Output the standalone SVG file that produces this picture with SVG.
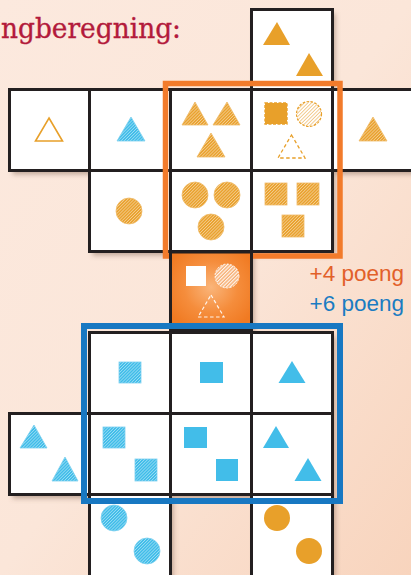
<svg xmlns="http://www.w3.org/2000/svg" width="411" height="575" viewBox="0 0 411 575">
<defs>
<linearGradient id="bg" x1="0" y1="0" x2="1" y2="1">
<stop offset="0" stop-color="#fce9de"/>
<stop offset="0.5" stop-color="#fbe6d9"/>
<stop offset="1" stop-color="#f8d4bd"/>
</linearGradient>
<radialGradient id="og" cx="0.5" cy="0.45" r="0.6">
<stop offset="0" stop-color="#fab57a"/>
<stop offset="0.55" stop-color="#f58d3c"/>
<stop offset="1" stop-color="#f07a22"/>
</radialGradient>
<pattern id="hO" width="2.2" height="2.2" patternUnits="userSpaceOnUse" patternTransform="rotate(45)">
<rect width="2.2" height="2.2" fill="#e9a22f"/><rect width="0.7" height="2.2" fill="#fff" fill-opacity="0.5"/>
</pattern>
<pattern id="hB" width="2.2" height="2.2" patternUnits="userSpaceOnUse" patternTransform="rotate(45)">
<rect width="2.2" height="2.2" fill="#41bde9"/><rect width="0.7" height="2.2" fill="#fff" fill-opacity="0.5"/>
</pattern>
<pattern id="hL" width="2.5" height="2.5" patternUnits="userSpaceOnUse" patternTransform="rotate(45)">
<rect width="2.5" height="2.5" fill="#fff"/><rect width="0.9" height="2.5" fill="#eaa640" fill-opacity="0.65"/>
</pattern>
<pattern id="hW" width="2.5" height="2.5" patternUnits="userSpaceOnUse" patternTransform="rotate(45)">
<rect width="2.5" height="2.5" fill="#f6ae74"/><rect width="1.1" height="2.5" fill="#fff" fill-opacity="0.9"/>
</pattern>
<filter id="blur" x="-10%" y="-10%" width="120%" height="120%"><feGaussianBlur stdDeviation="2.5"/></filter>
<style>
.cell{fill:#fff;stroke:#231f20;stroke-width:3}
.o{fill:#e8a02a}
.b{fill:#42bde9}
.ho{fill:url(#hO);stroke:#efbb6a;stroke-width:0.8}
.hb{fill:url(#hB);stroke:#7dd0ef;stroke-width:0.8}
.sh{fill:#7a5a48;fill-opacity:0.45}
.lbl{font-family:"Liberation Sans",Arial,sans-serif;font-size:22.5px;text-anchor:end}
</style>
</defs>
<rect width="411" height="575" fill="url(#bg)"/>
<text x="1" y="38" font-family="'DejaVu Serif',serif" font-size="27" fill="#b31a3b" stroke="#b31a3b" stroke-width="0.35" textLength="180" lengthAdjust="spacingAndGlyphs">ngberegning:</text>

<g id="shadow" filter="url(#blur)" transform="translate(3,4)">
<rect class="sh" x="251.5" y="9.5" width="81" height="80"/>
<rect class="sh" x="9.5" y="89.5" width="420" height="81"/>
<rect class="sh" x="89.5" y="170.5" width="243" height="81"/>
<rect class="sh" x="170.5" y="251.5" width="81" height="81"/>
<rect class="sh" x="89.5" y="332.5" width="243" height="81"/>
<rect class="sh" x="9.5" y="413.5" width="323" height="81"/>
<rect class="sh" x="89.5" y="494.5" width="81" height="90"/>
<rect class="sh" x="251.5" y="494.5" width="81" height="90"/>
</g>

<g id="cell-top">
<rect class="cell" x="251.5" y="9.5" width="81" height="80"/>
<polygon class="o" points="277,22 290,45 263,45"/>
<polygon class="o" points="309,53 323,76 296,76"/>
</g>
<g id="cell-r1c0">
<rect class="cell" x="9.5" y="89.5" width="80" height="81"/>
<polygon points="49,118 62.5,141 35.5,141" fill="none" stroke="#e8a02a" stroke-width="1.6"/>
</g>
<g id="cell-r1c1">
<rect class="cell" x="89.5" y="89.5" width="81" height="81"/>
<polygon class="hb" points="131,117 145,141 117,141"/>
</g>
<g id="cell-r1c2">
<rect class="cell" x="170.5" y="89.5" width="81" height="81"/>
<polygon class="ho" points="195,102 208,125 182,125"/>
<polygon class="ho" points="227,102 240,125 213,125"/>
<polygon class="ho" points="211,133 225,157 197,157"/>
</g>
<g id="cell-r1c3">
<rect class="cell" x="251.5" y="89.5" width="81" height="81"/>
<rect x="265" y="103" width="22" height="21" fill="#e8a02a" stroke="#e8a02a" stroke-width="1.4" stroke-dasharray="3 1.5"/>
<circle cx="309" cy="114" r="12.5" fill="url(#hL)" stroke="#e8a02a" stroke-width="1.2" stroke-dasharray="2.5 1.5"/>
<polygon points="291.5,135 305,158 278,158" fill="none" stroke="#e8a02a" stroke-width="1.3" stroke-dasharray="3.5 2.5"/>
</g>
<g id="cell-r1c4">
<rect class="cell" x="332.5" y="89.5" width="90" height="81"/>
<polygon class="ho" points="373,117 387,141 359,141"/>
</g>
<g id="cell-r2c1">
<rect class="cell" x="89.5" y="170.5" width="81" height="81"/>
<circle class="ho" cx="129" cy="211" r="13"/>
</g>
<g id="cell-r2c2">
<rect class="cell" x="170.5" y="170.5" width="81" height="81"/>
<circle class="ho" cx="195" cy="195" r="13"/>
<circle class="ho" cx="227" cy="195" r="13"/>
<circle class="ho" cx="211" cy="227" r="13"/>
</g>
<g id="cell-r2c3">
<rect class="cell" x="251.5" y="170.5" width="81" height="81"/>
<rect class="ho" x="265" y="183" width="22" height="22"/>
<rect class="ho" x="297" y="183" width="22" height="22"/>
<rect class="ho" x="282" y="215" width="22" height="22"/>
</g>
<g id="cell-r4c1">
<rect class="cell" x="89.5" y="332.5" width="81" height="81"/>
<rect class="hb" x="119" y="362" width="22" height="21"/>
</g>
<g id="cell-r4c2">
<rect class="cell" x="170.5" y="332.5" width="81" height="81"/>
<rect class="b" x="200" y="362" width="23" height="21"/>
</g>
<g id="cell-r4c3">
<rect class="cell" x="251.5" y="332.5" width="81" height="81"/>
<polygon class="b" points="292,361 305.5,383 278.5,383"/>
</g>
<g id="cell-r5c0">
<rect class="cell" x="9.5" y="413.5" width="80" height="81"/>
<polygon class="hb" points="34,425 47,448 20,448"/>
<polygon class="hb" points="65,457 78,481 52,481"/>
</g>
<g id="cell-r5c1">
<rect class="cell" x="89.5" y="413.5" width="81" height="81"/>
<rect class="hb" x="103" y="427" width="22" height="21"/>
<rect class="hb" x="135" y="459" width="22" height="22"/>
</g>
<g id="cell-r5c2">
<rect class="cell" x="170.5" y="413.5" width="81" height="81"/>
<rect class="b" x="184" y="427" width="23" height="21"/>
<rect class="b" x="216" y="459" width="22" height="22"/>
</g>
<g id="cell-r5c3">
<rect class="cell" x="251.5" y="413.5" width="81" height="81"/>
<polygon class="b" points="276,426 289,448 263,448"/>
<polygon class="b" points="308,458 321.5,481 294.5,481"/>
</g>
<g id="cell-r6c1">
<rect class="cell" x="89.5" y="494.5" width="81" height="90"/>
<circle class="hb" cx="114" cy="518" r="13"/>
<circle class="hb" cx="147" cy="551" r="13"/>
</g>
<g id="cell-r6c3">
<rect class="cell" x="251.5" y="494.5" width="81" height="90"/>
<circle class="o" cx="277" cy="518" r="13"/>
<circle class="o" cx="309" cy="551" r="13"/>
</g>

<g id="frame-orange">
<rect x="165.5" y="83.5" width="174.5" height="172.5" fill="none" stroke="#f27b2b" stroke-width="5.5"/>
</g>
<g id="cell-bonus">
<rect x="170.5" y="252" width="81" height="78" fill="url(#og)" stroke="#231f20" stroke-width="3"/>
<rect x="186" y="266" width="20" height="20" fill="#fff"/>
<circle cx="227" cy="276" r="12" fill="url(#hW)" stroke="#fff" stroke-width="0.8" stroke-dasharray="2 1.5"/>
<polygon points="211,295 224,317 198,317" fill="none" stroke="#fff" stroke-opacity="0.9" stroke-width="1.2" stroke-dasharray="3.5 2.5"/>
</g>
<g id="frame-blue">
<rect x="84" y="326" width="256" height="175" fill="none" stroke="#1878c2" stroke-width="6"/>
</g>

<g id="labels">
<text class="lbl" x="404" y="281" fill="#e2602a">+4 poeng</text>
<text class="lbl" x="404" y="311" fill="#1b7cc2">+6 poeng</text>
</g>
</svg>
